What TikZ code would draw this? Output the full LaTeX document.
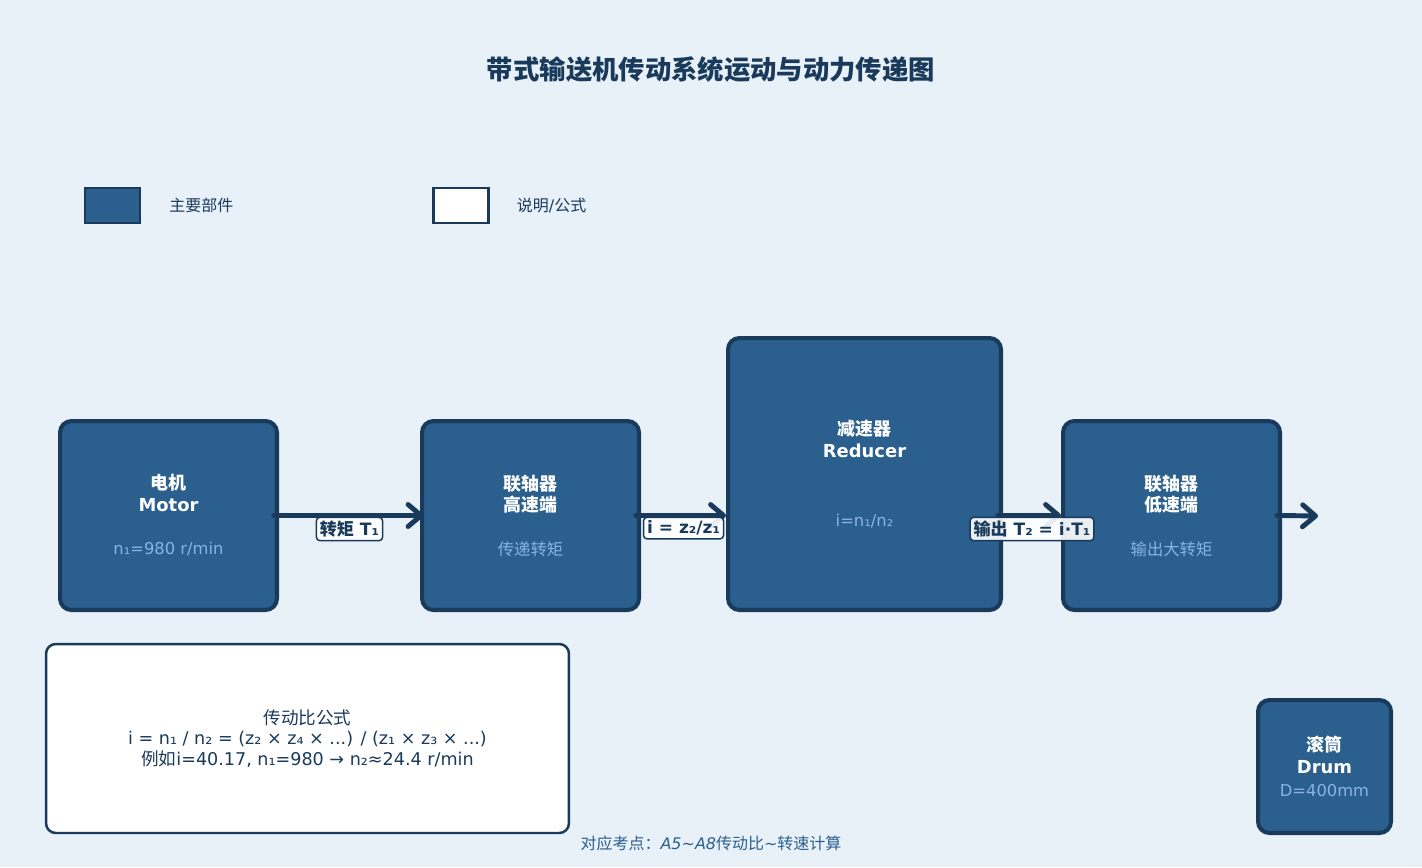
\documentclass[tikz,border=0pt]{standalone}
\usepackage{fontspec}
\setmainfont{DejaVu Sans}
\newfontfamily\cjk{Noto Sans CJK SC}
\newcommand{\zh}[1]{{\cjk #1}}
\usetikzlibrary{positioning, arrows.meta}

\definecolor{bgblue}{HTML}{E8F0F8}
\definecolor{navy}{HTML}{1A3A5C}
\definecolor{partblue}{HTML}{2A5F8E}
\definecolor{subblue}{HTML}{8AB4E0}

\tikzset{
	part/.style = {draw = navy, fill = partblue, line width = 2.3pt, rounded corners = 6.5pt,
		text = white, align = center, font = \fontsize{10.2}{12.5}\selectfont},
	swatch/.style = {draw = navy, line width = 1.2pt, minimum width = 1.1cm, minimum height = 0.7cm},
	key/.style = {inner sep = 0pt, text = navy, font = \fontsize{9.1}{11}\selectfont},
	tag/.style = {draw = navy, line width = 0.85pt, fill = white, fill opacity = 0.9, text opacity = 1,
		rounded corners = 2pt, inner sep = 2pt, text = navy, font = \fontsize{9.7}{11}\selectfont\bfseries},
	flow/.style = {draw = navy, line width = 2.8pt, line cap = round, shorten <= -3pt,
		-{Straight Barb[length = 2.6mm, width = 4.4mm, round]}}
}
\newcommand{\subtext}[1]{{\fontsize{9.3}{11}\selectfont\color{subblue}#1}}

\begin{document}
\begin{tikzpicture}[x = 0.02cm, y = -0.02cm]
	\fill [bgblue] (0,0) rectangle (1422,867);
	\useasboundingbox (0,0) rectangle (1422,867);

	\node [text = navy, font = \fontsize{15}{18}\selectfont\bfseries] (title) at (711,70)
		{\zh{带式输送机传动系统运动与动力传递图}};

	% legend
	\begin{scope}
		\node [swatch, fill = partblue] (keyPart) at (112.5,205.5) {};
		\node [key, right = 0.56cm of keyPart] (keyPartText) {\zh{主要部件}};
		\node [swatch, fill = white] (keyNote) at (461,205.5) {};
		\node [key, right = 0.54cm of keyNote] (keyNoteText) {\zh{说明}/\zh{公式}};
	\end{scope}

	% transmission chain
	\begin{scope}
		\node [part, minimum width = 4.34cm, minimum height = 3.78cm] (motor) at (168.5,515.5)
			{\textbf{\zh{电机}}\\\textbf{Motor}\\[12pt]\subtext{n₁=980 r/min}};
		\node [part, minimum width = 4.34cm, minimum height = 3.78cm] (shaftIn) at (530.5,515.5)
			{\textbf{\zh{联轴器}}\\\textbf{\zh{高速端}}\\[12pt]\subtext{\zh{传递转矩}}};
		\node [part, minimum width = 5.46cm, minimum height = 5.44cm] (reducer) at (864.5,474)
			{\textbf{\zh{减速器}}\\\textbf{Reducer}\\[27pt]\subtext{i=n₁/n₂}};
		\node [part, minimum width = 4.34cm, minimum height = 3.78cm] (shaftOut) at (1171.5,515.5)
			{\textbf{\zh{联轴器}}\\\textbf{\zh{低速端}}\\[12pt]\subtext{\zh{输出大转矩}}};
		\node [part, minimum width = 2.66cm, minimum height = 2.66cm] (drum) at (1324.5,766.5)
			{\textbf{\zh{滚筒}}\\\textbf{Drum}\\[1pt]\subtext{D=400mm}};
		\coordinate (outEnd) at (1318,516);
	\end{scope}

	\begin{scope}
		\draw [flow, shorten >= -2pt] (motor.east) -- (shaftIn.west)
			node [tag, midway, anchor = north, yshift = -0.6pt] (tagT1) {\zh{转矩} T₁};
		\draw [flow] (shaftIn.east) -- (shaftIn.east -| reducer.west)
			node [tag, midway, anchor = north, yshift = -0.6pt] (tagRatio) {i = z₂/z₁};
		\draw [flow] (reducer.east |- shaftOut.west) -- (shaftOut.west)
			node [tag, midway, anchor = north, yshift = -0.6pt] (tagT2) {\zh{输出} T₂ = i·T₁};
		\draw [flow] (shaftOut.east) -- (outEnd);
	\end{scope}

	% formula box
	\node [draw = navy, fill = white, line width = 1.4pt, rounded corners = 5.5pt,
		minimum width = 10.46cm, minimum height = 3.78cm, align = center, text = navy,
		font = \fontsize{10}{11.7}\selectfont] (formula) at (307.5,738.5)
		{\zh{传动比公式}\\i = n₁ / n₂ = (z₂ × z₄ × ...) / (z₁ × z₃ × ...)\\\zh{例如}i=40.17, n₁=980 → n₂≈24.4 r/min};

	\node [text = partblue, font = \fontsize{9.1}{11}\selectfont] (footnote) at (711,843)
		{\zh{对应考点：}\textit{A5\textasciitilde A8}\zh{传动比}\textasciitilde\zh{转速计算}};
\end{tikzpicture}
\end{document}
